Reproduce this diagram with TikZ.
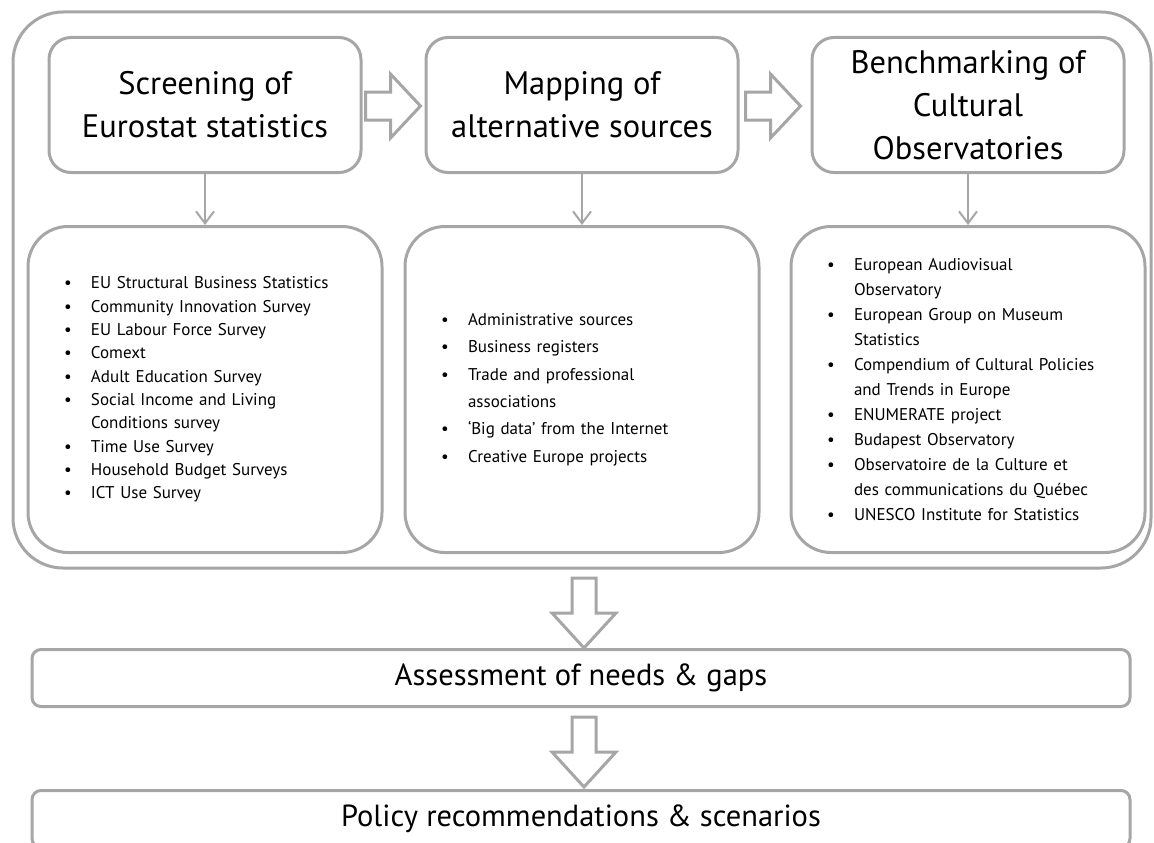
\documentclass[tikz,border=0pt]{standalone}
\usepackage{fontspec}
\setmainfont{PT Sans}
\usepackage{xcolor}
\usetikzlibrary{positioning}
\usetikzlibrary{calc}
\usetikzlibrary{arrows.meta}
\definecolor{framegray}{HTML}{A6A6A6}
\newcommand{\itm}{\hspace*{15pt}\makebox[27pt][l]{\textbullet}}
\newcommand{\cnt}{\hspace*{42pt}}

\begin{document}
\begin{tikzpicture}[x=1pt,y=-1pt,
  stage/.style={rectangle, draw=framegray, line width=3pt, rounded corners=22pt, minimum width=312pt, minimum height=135pt, align=center, font=\fontsize{32.5}{43}\selectfont},
  source/.style={rectangle, draw=framegray, line width=3pt, rounded corners=40pt, minimum width=354pt, minimum height=326pt, text width=312pt, align=left},
  result/.style={rectangle, draw=framegray, line width=3pt, rounded corners=9pt, minimum width=1098pt, minimum height=57pt, font=\fontsize{30.5}{36}\selectfont},
  link/.style={draw=framegray, line width=2pt, -{Straight Barb[length=12pt,width=18pt]}},
  fat/.style={draw=framegray, line width=3pt, fill=white, line join=miter},
  rarrow/.pic={\path[fat] (0,-14) -- (25,-14) -- (25,-32) -- (55,0) -- (25,32) -- (25,14) -- (0,14) -- cycle;},
  darrow/.pic={\path[fat] (-12,0) -- (-12,35) -- (-32,35) -- (0,70) -- (32,35) -- (12,35) -- (12,0) -- cycle;}]
\useasboundingbox (0,0) rectangle (1154,843);
\clip (0,0) rectangle (1154,843);
% frame round the three steps
\draw[draw=framegray, line width=3pt, rounded corners=50pt] (13,12) rectangle (1151,568);
\node[stage] (screen) at (205,105) {Screening of\\Eurostat statistics};
\node[stage,right=62pt of screen] (mapping) {Mapping of\\alternative sources};
\node[stage,right=71pt of mapping] (bench) {Benchmarking of\\Cultural\\Observatories};
\pic at ($(screen.east)+(3,1)$) {rarrow};
\pic at ($(mapping.east)+(6,1)$) {rarrow};
\node[source,below=51pt of screen,font=\fontsize{17}{23.3}\selectfont] (survey) {\itm EU Structural Business Statistics\\\itm Community Innovation Survey\\\itm EU Labour Force Survey\\\itm Comext\\\itm Adult Education Survey\\\itm Social Income and Living\\\cnt Conditions survey\\\itm Time Use Survey\\\itm Household Budget Surveys\\\itm ICT Use Survey};
\node[source,below=51pt of mapping,font=\fontsize{17}{27.4}\selectfont] (altsrc) {\itm Administrative sources\\\itm Business registers\\\itm Trade and professional\\\cnt associations\\\itm ‘Big data’ from the Internet\\\itm Creative Europe projects};
\node[source,below=51pt of bench,font=\fontsize{17}{25}\selectfont] (observ) {\itm European Audiovisual\\\cnt Observatory\\\itm European Group on Museum\\\cnt Statistics\\\itm Compendium of Cultural Policies\\\cnt and Trends in Europe\\\itm ENUMERATE project\\\itm Budapest Observatory\\\itm Observatoire de la Culture et\\\cnt des communications du Québec\\\itm UNESCO Institute for Statistics};
\draw[link] (screen) -- (survey);
\draw[link] (mapping) -- (altsrc);
\draw[link] (bench) -- (observ);
\node[result] (assess) at (581,678) {Assessment of needs \& gaps};
\node[result,below=81pt of assess] (policy) {Policy recommendations \& scenarios};
\pic at ($(assess.north)+(3,-70)$) {darrow};
\pic at ($(policy.north)+(3,-72)$) {darrow};
\end{tikzpicture}
\end{document}
